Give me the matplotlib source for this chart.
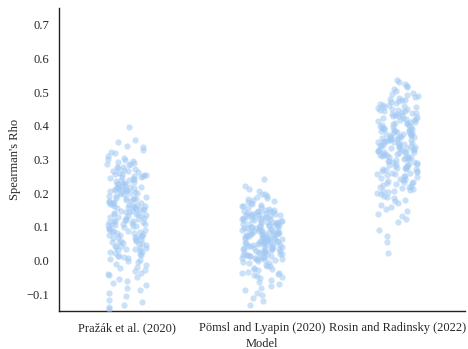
import numpy as np
import pandas as pd
import seaborn as sns
import matplotlib
matplotlib.use('Agg')
import matplotlib.pyplot as plt

models = ['Pražák et al. (2020)', 'Pömsl and Lyapin (2020)', 'Rosin and Radinsky (2022)']

# Spearman's rho per run
prazak = [
    0.398, 0.357, 0.353,
    0.341, 0.336, 0.327, 0.322, 0.318, 0.309, 0.305, 0.302,
    0.299, 0.296, 0.294, 0.291, 0.288, 0.287, 0.283, 0.279, 0.277, 0.276, 0.272,
    0.268, 0.266, 0.265, 0.262, 0.259, 0.258, 0.256, 0.254, 0.253, 0.251, 0.250,
    0.249, 0.248, 0.245, 0.241, 0.240, 0.239, 0.236, 0.231, 0.230, 0.228, 0.227,
    0.224, 0.219, 0.218, 0.217, 0.214, 0.213, 0.212, 0.209, 0.208, 0.207, 0.206,
    0.204, 0.203, 0.201, 0.242, 0.233, 0.222, 0.216, 0.211,
    0.199, 0.198, 0.196, 0.193, 0.192, 0.190, 0.187, 0.186, 0.184, 0.183, 0.181,
    0.178, 0.176, 0.175, 0.174, 0.171, 0.169, 0.168, 0.166, 0.163, 0.162, 0.161,
    0.158, 0.157, 0.156, 0.154, 0.153, 0.152, 0.185, 0.172, 0.164, 0.159,
    0.149, 0.147, 0.146, 0.144, 0.141, 0.139, 0.138, 0.137, 0.134, 0.132, 0.131,
    0.128, 0.127, 0.126, 0.123, 0.121, 0.119, 0.118, 0.116, 0.114, 0.113, 0.111,
    0.109, 0.108, 0.106, 0.104, 0.103, 0.101, 0.143, 0.129, 0.117, 0.107,
    0.099, 0.097, 0.094, 0.092, 0.091, 0.089, 0.086, 0.084, 0.083, 0.081, 0.078,
    0.077, 0.075, 0.073, 0.071, 0.069, 0.067, 0.066, 0.064, 0.062, 0.059, 0.058,
    0.056, 0.054, 0.053, 0.051, 0.088, 0.072,
    0.049, 0.047, 0.044, 0.043, 0.041, 0.038, 0.036, 0.034, 0.033, 0.031, 0.028,
    0.026, 0.024, 0.021, 0.019, 0.017, 0.014, 0.012, 0.009, 0.007, 0.004, 0.002,
    -0.003, -0.006, -0.011, -0.014, -0.018, -0.022, -0.027, -0.031, -0.036, -0.041,
    -0.044, -0.048,
    -0.054, -0.061, -0.068, -0.074, -0.081, -0.089, -0.097,
    -0.106, -0.118, -0.124, -0.132, -0.139, -0.143,
]

pomsl = [
    0.241, 0.221, 0.213, 0.205,
    0.198, 0.196, 0.192, 0.189, 0.186, 0.184, 0.181, 0.177, 0.174, 0.171, 0.168,
    0.166, 0.163, 0.161, 0.158, 0.156, 0.153, 0.151,
    0.149, 0.148, 0.147, 0.146, 0.144, 0.143, 0.142, 0.141, 0.139, 0.138, 0.137,
    0.136, 0.134, 0.133, 0.132, 0.131, 0.129, 0.128, 0.127, 0.126, 0.124, 0.123,
    0.122, 0.121, 0.119, 0.118, 0.117, 0.116, 0.114, 0.113, 0.112, 0.111, 0.109,
    0.108, 0.107, 0.106, 0.104, 0.103, 0.102, 0.101, 0.145, 0.135, 0.125, 0.115, 0.105,
    0.099, 0.098, 0.098, 0.096, 0.095, 0.093, 0.093, 0.092, 0.090, 0.089, 0.088,
    0.087, 0.087, 0.085, 0.083, 0.083, 0.082, 0.081, 0.079, 0.078, 0.078, 0.076,
    0.075, 0.074, 0.074, 0.072, 0.071, 0.069, 0.069, 0.068, 0.066, 0.065, 0.065,
    0.063, 0.062, 0.061, 0.060, 0.058, 0.058, 0.057, 0.055, 0.054, 0.053, 0.052,
    0.051, 0.097, 0.091, 0.086, 0.080, 0.073, 0.067, 0.064, 0.059, 0.056, 0.050,
    0.049, 0.048, 0.046, 0.046, 0.045, 0.043, 0.042, 0.041, 0.039, 0.038, 0.038,
    0.036, 0.035, 0.033, 0.032, 0.031, 0.029, 0.028, 0.027, 0.026, 0.024, 0.023,
    0.021, 0.020, 0.019, 0.017, 0.016, 0.015, 0.013, 0.012, 0.011, 0.009, 0.008,
    0.006, 0.005, 0.004, 0.002, 0.001, 0.044, 0.034, 0.025, 0.018, 0.014, 0.007, 0.003,
    -0.002, -0.004, -0.007, -0.009, -0.012, -0.015, -0.017, -0.021, -0.024, -0.026,
    -0.029, -0.033, -0.036, -0.038, -0.041, -0.044, -0.046, -0.049,
    -0.053, -0.058, -0.064, -0.071, -0.077, -0.083, -0.089, -0.096,
    -0.104, -0.112, -0.121, -0.132,
]

rosin = [
    0.537, 0.531, 0.524, 0.519, 0.515, 0.508, 0.503,
    0.498, 0.494, 0.492, 0.489, 0.486, 0.483, 0.481, 0.478, 0.476, 0.474,
    0.471, 0.468, 0.466, 0.463, 0.461, 0.459, 0.457, 0.455, 0.453, 0.451,
    0.449, 0.448, 0.446, 0.444, 0.443, 0.441, 0.438, 0.437, 0.435, 0.433,
    0.431, 0.429, 0.428, 0.426, 0.424, 0.423, 0.421, 0.419, 0.417, 0.416,
    0.414, 0.412, 0.411, 0.409, 0.407, 0.406, 0.404, 0.402, 0.401, 0.434,
    0.399, 0.398, 0.396, 0.395, 0.393, 0.392, 0.391, 0.389, 0.388, 0.386,
    0.384, 0.383, 0.382, 0.379, 0.378, 0.377, 0.375, 0.374, 0.372, 0.371,
    0.369, 0.368, 0.366, 0.365, 0.363, 0.361, 0.360, 0.358, 0.357, 0.356,
    0.354, 0.353, 0.351, 0.387, 0.376, 0.367, 0.362, 0.352,
    0.349, 0.348, 0.346, 0.345, 0.343, 0.341, 0.340, 0.339, 0.337, 0.336,
    0.334, 0.333, 0.331, 0.329, 0.328, 0.327, 0.325, 0.323, 0.322, 0.321,
    0.319, 0.318, 0.316, 0.314, 0.313, 0.312, 0.309, 0.308, 0.307, 0.305,
    0.304, 0.302, 0.301, 0.344, 0.332, 0.324, 0.317, 0.306,
    0.299, 0.297, 0.296, 0.294, 0.292, 0.291, 0.288, 0.287, 0.285, 0.283,
    0.281, 0.279, 0.278, 0.276, 0.274, 0.272, 0.271, 0.268, 0.267, 0.265,
    0.263, 0.261, 0.259, 0.258, 0.256, 0.254, 0.252, 0.251, 0.286, 0.273,
    0.248, 0.246, 0.243, 0.241, 0.238, 0.236, 0.234, 0.231, 0.229, 0.226,
    0.224, 0.222, 0.219, 0.217, 0.214, 0.212, 0.209, 0.207, 0.205, 0.203,
    0.201, 0.233,
    0.197, 0.193, 0.189, 0.185, 0.181, 0.176, 0.171, 0.166, 0.159, 0.153,
    0.146, 0.138, 0.131, 0.122, 0.115,
    0.091, 0.072, 0.056,
    0.023,
]

df = pd.DataFrame({
    'Model': [models[0]] * len(prazak) + [models[1]] * len(pomsl) + [models[2]] * len(rosin),
    'rho': prazak + pomsl + rosin,
})

sns.set_style('white')
plt.rcParams['font.family'] = ['Liberation Serif', 'DejaVu Serif']
plt.rcParams['font.size'] = 9

np.random.seed(3)
fig, ax = plt.subplots(figsize=(4.68, 3.49), dpi=100)
sns.stripplot(data=df, x='Model', y='rho', order=models, color='#a1c9f4',
              alpha=0.55, size=4.5, jitter=0.15, linewidth=0, ax=ax)

ax.set_ylim(-0.15, 0.75)
ax.set_xlim(-0.5, 2.5)
ax.set_yticks(np.arange(-0.1, 0.71, 0.1))
ax.set_xlabel('Model', fontsize=9, labelpad=3)
ax.set_ylabel("Spearman's Rho", fontsize=9)
ax.tick_params(axis='x', labelsize=9, length=0, pad=8)
ax.tick_params(axis='y', labelsize=9, length=0, pad=7)
sns.despine(ax=ax)
for s in ['left', 'bottom']:
    ax.spines[s].set_color('#222222')
    ax.spines[s].set_linewidth(1.0)

fig.subplots_adjust(left=0.126, right=0.994, top=0.977, bottom=0.109)
fig.savefig('out.png', dpi=100)
